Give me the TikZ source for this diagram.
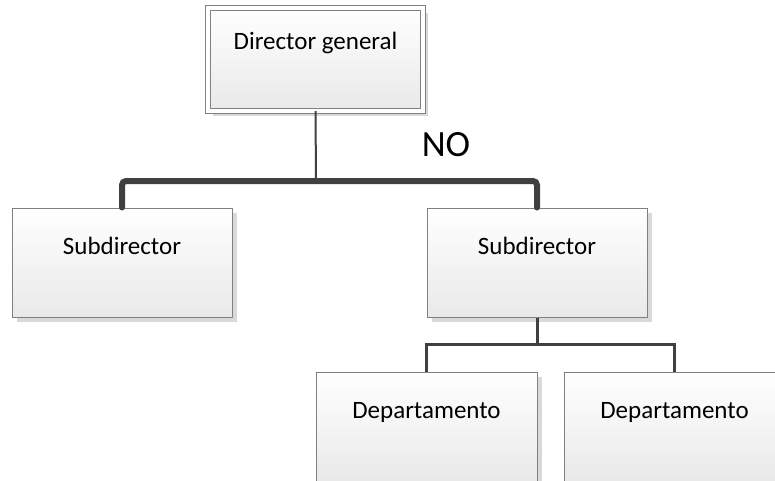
\documentclass[tikz,border=0pt]{standalone}
\usepackage{fontspec}
\setmainfont{Carlito}
\usetikzlibrary{shadows,positioning}
\definecolor{boxline}{RGB}{128,128,128}
\definecolor{boxshade}{RGB}{233,233,233}
\definecolor{shadowgray}{RGB}{217,217,217}
\definecolor{linkgray}{RGB}{64,64,64}

\tikzset{
  orgbox/.style={draw=boxline, line width=1pt, rectangle,
    top color=white, bottom color=boxshade,
    minimum width=220pt, minimum height=109pt,
    font=\fontsize{25}{30}\selectfont, text height=16pt, text depth=32pt,
    drop shadow={shadow xshift=5pt, shadow yshift=-5pt, fill=shadowgray, opacity=1}},
  headbox/.style={orgbox, double=white, double distance=4pt,
    minimum width=215pt, minimum height=103pt, text depth=35pt},
  biglink/.style={draw=linkgray, line width=6pt, rounded corners=4pt, line cap=round},
  smalllink/.style={draw=linkgray, line width=3pt},
  stemlink/.style={draw=linkgray, line width=2pt}
}

\begin{document}
\begin{tikzpicture}[x=1pt, y=-1pt]
  \useasboundingbox (0,0) rectangle (775,480);

  % top of the chart
  \node[headbox] (dir) at (315.5,59) {Director general};

  % second level
  \node[orgbox] (sub1) at (122,262.5) {Subdirector};
  \node[orgbox] (sub2) at (537,262.5) {Subdirector};

  % third level
  \node[orgbox, minimum width=221pt] (dep1) at (426.5,426.5) {Departamento};
  \node[orgbox, minimum width=221pt] (dep2) at (674.5,426.5) {Departamento};

  \node[font=\fontsize{37}{44}\selectfont] (no) at (446,145) {NO};

  % connectors
  \coordinate (bar) at (316,181);
  \coordinate (bar2) at (537,344);
  \draw[stemlink] (dir.south) -- (bar);
  \draw[biglink] (sub1.north) |- (bar) -| (sub2.north);
  \draw[smalllink] (sub2.south) -- (bar2);
  \draw[smalllink] (dep1.north) |- (bar2) -| (dep2.north);
\end{tikzpicture}
\end{document}
